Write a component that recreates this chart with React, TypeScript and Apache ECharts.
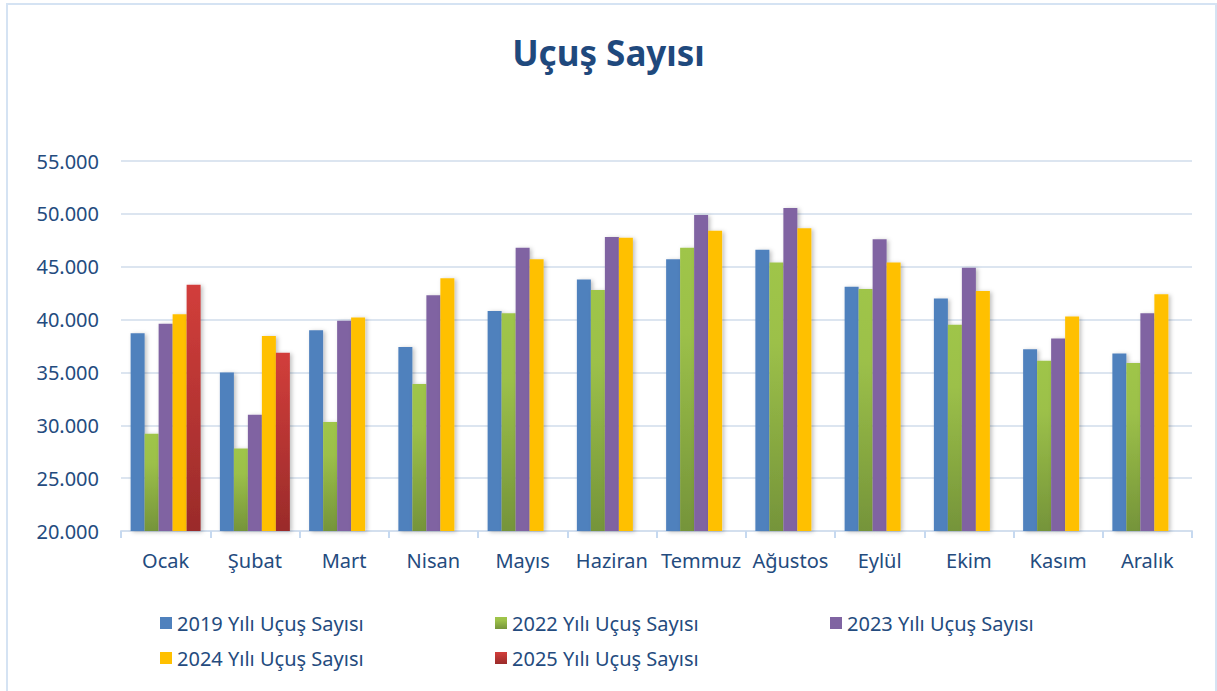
import React, { useEffect, useRef } from "react";
import * as echarts from "echarts";

const months = ["Ocak", "Şubat", "Mart", "Nisan", "Mayıs", "Haziran", "Temmuz", "Ağustos", "Eylül", "Ekim", "Kasım", "Aralık"];
const seriesNames = ["2019 Yılı Uçuş Sayısı", "2022 Yılı Uçuş Sayısı", "2023 Yılı Uçuş Sayısı", "2024 Yılı Uçuş Sayısı", "2025 Yılı Uçuş Sayısı"];
const y2019 = [38700, 35000, 39000, 37400, 40800, 43800, 45700, 46600, 43100, 42000, 37200, 36800];
const y2022 = [29200, 27800, 30300, 33900, 40600, 42800, 46800, 45400, 42900, 39500, 36100, 35900];
const y2023 = [39600, 31000, 39900, 42300, 46800, 47800, 49900, 50550, 47600, 44900, 38200, 40600];
const y2024 = [40500, 38450, 40200, 43900, 45700, 47750, 48400, 48650, 45400, 42700, 40300, 42400];
const y2025: (number | string)[] = [43300, 36850, "-", "-", "-", "-", "-", "-", "-", "-", "-", "-"];
const yTicks = { min: 20000, max: 55000, interval: 5000 };

const textColor = "#244B7E";
const font = "'Noto Sans', sans-serif";

const greenGrad = new echarts.graphic.LinearGradient(0, 0, 0, 1, [
  { offset: 0, color: "#9FC54A" },
  { offset: 0.3, color: "#9CC049" },
  { offset: 1, color: "#75943A" },
]);
const redGrad = new echarts.graphic.LinearGradient(0, 0, 0, 1, [
  { offset: 0, color: "#D23E3B" },
  { offset: 1, color: "#9A2B2A" },
]);
const colors: any[] = ["#4F81BD", greenGrad, "#8064A2", "#FFC000", redGrad];
const legendColors = ["#4F81BD", "#8DB148", "#8064A2", "#FFC000", "#B93431"];

export default function App() {
  const ref = useRef<HTMLDivElement>(null);
  useEffect(() => {
    if (!ref.current) return;
    const chart = echarts.init(ref.current, null, { renderer: "svg" });
    const dataSets = [y2019, y2022, y2023, y2024, y2025];
    const legendBase = {
      orient: "vertical" as const,
      top: 608,
      itemWidth: 12,
      itemHeight: 12,
      itemGap: 15,
      icon: "rect",
      textStyle: { color: textColor, fontSize: 20, fontFamily: font },
    };
    chart.setOption({
      animation: false,
      backgroundColor: "#ffffff",
      title: {
        text: "Uçuş Sayısı",
        left: "center",
        top: 30,
        textStyle: { color: "#1F497D", fontSize: 35, fontWeight: "bold", fontFamily: font },
      },
      graphic: [
        {
          type: "rect",
          shape: { x: 7, y: 4, width: 1209, height: 700 },
          style: { fill: "none", stroke: "#D5E3F3", lineWidth: 2 },
          silent: true,
        },
      ],
      legend: [
        { ...legendBase, left: 155, data: [seriesNames[0], seriesNames[3]] },
        { ...legendBase, left: 490, data: [seriesNames[1], seriesNames[4]] },
        { ...legendBase, left: 825, data: [seriesNames[2]] },
      ],
      grid: { left: 121, right: 25, top: 161, bottom: 160, containLabel: false },
      xAxis: {
        type: "category",
        data: months,
        axisLine: { show: true, lineStyle: { color: "#D3DFEE", width: 2 } },
        axisTick: { show: true, interval: 0, length: 7, lineStyle: { color: "#C6D9F0", width: 2 } },
        axisLabel: { color: textColor, fontSize: 20, fontFamily: font, margin: 19, interval: 0 },
      },
      yAxis: {
        type: "value",
        min: yTicks.min,
        max: yTicks.max,
        interval: yTicks.interval,
        axisLine: { show: false },
        axisTick: { show: false },
        axisLabel: {
          color: textColor,
          fontSize: 20,
          fontFamily: font,
          margin: 22,
          formatter: (v: number) => v.toLocaleString("de-DE"),
        },
        splitLine: { lineStyle: { color: "#DCE5F0", width: 2 } },
      },
      series: seriesNames.map((name, i) => ({
        name,
        type: "bar",
        data: dataSets[i],
        barWidth: 14,
        barGap: "0%",
        itemStyle: {
          color: colors[i],
          shadowColor: "rgba(0,0,0,0.25)",
          shadowBlur: 4,
          shadowOffsetX: 2,
          shadowOffsetY: 1,
        },
        color: legendColors[i],
      })),
    });
    return () => chart.dispose();
  }, []);
  return (
    <div
      ref={ref}
      style={{ position: "fixed", left: 0, top: 0, width: 1217, height: 691 }}
    />
  );
}
